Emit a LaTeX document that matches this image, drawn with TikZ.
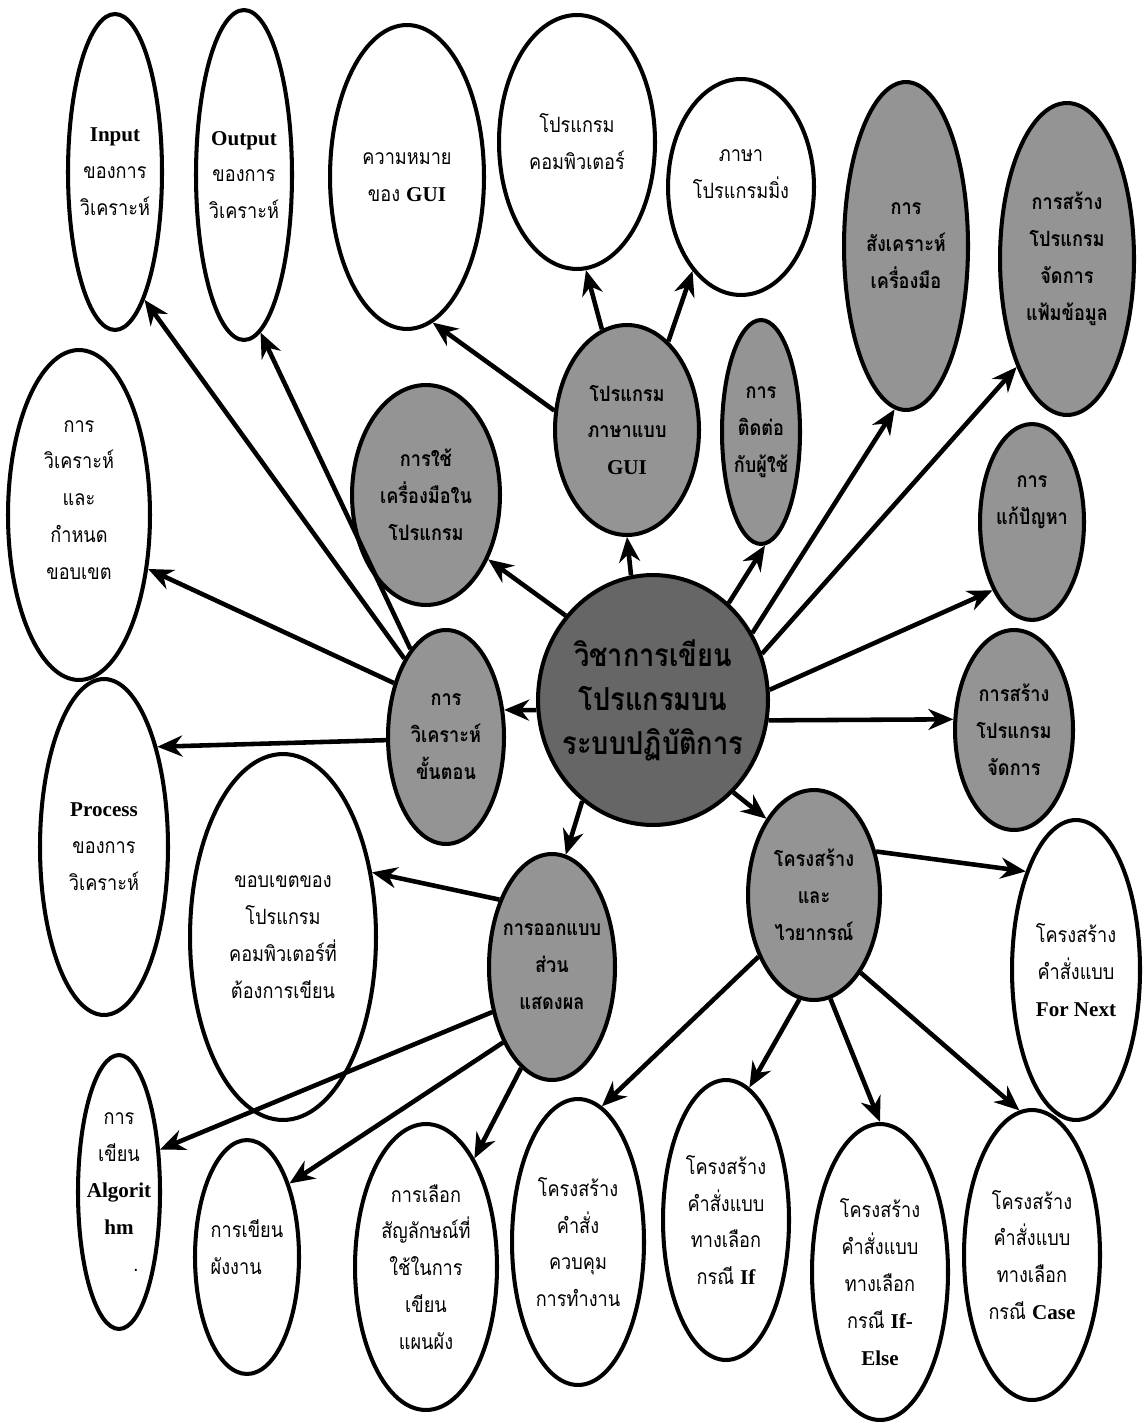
\documentclass[tikz,border=0pt]{standalone}
\usepackage{fontspec}
\setmainfont{Liberation Serif}
\newfontfamily\thai[Script=Thai, FakeStretch=0.86]{Loma}
\usetikzlibrary{arrows.meta, shapes.geometric}
\newcommand\en[1]{{\rmfamily\bfseries #1}}

\begin{document}
\begin{tikzpicture}[
  x=0.02cm, y=-0.02cm,
  arrow/.style={-{Stealth[length=5mm, width=4.2mm]}, line width=2.6pt},
  dims/.style 2 args={minimum width=#1*0.4mm, minimum height=#2*0.4mm},
  oval/.style={ellipse, draw, line width=2.3pt, inner sep=0pt, fill=white},
  topic/.style={oval, fill=black!42},
  hub/.style={oval, fill=black!60},
  txt/.style={align=center, font=\thai\fontsize{12}{21}\selectfont},
  btxt/.style={align=center, font=\thai\bfseries\fontsize{12}{21}\selectfont},
  hubtxt/.style={align=center, font=\thai\bfseries\fontsize{18}{25}\selectfont}
]
\fill[white, use as bounding box] (0,0) rectangle (1148,1425);

% =========================
% Centre
% =========================
\node[hub, dims={115}{125}, label={[hubtxt]center:วิชาการเขียน\\โปรแกรมบน\\ระบบปฏิบัติการ}] (main) at (653,700) {};

% =========================
% Top row
% =========================
\node[oval, dims={47}{158}, label={[txt]center:\en{Input}\\ของการ\\วิเคราะห์}] (input) at (115,172) {};
\node[oval, dims={48}{165}, label={[txt]center:\en{Output}\\ของการ\\วิเคราะห์}] (output) at (244,175) {};
\node[oval, dims={77}{152}, label={[txt]center:ความหมาย\\ของ \en{GUI}}] (meaning) at (407,177) {};
\node[oval, dims={78}{127}, label={[txt]center:โปรแกรม\\คอมพิวเตอร์}] (program) at (577,142) {};
\node[oval, dims={73}{108}, label={[txt, yshift=0.25cm]center:ภาษา\\โปรแกรมมิ่ง}] (lang) at (741,187) {};
\node[topic, dims={62}{164}, label={[btxt]center:การ\\สังเคราะห์\\เครื่องมือ}] (synth) at (906,246) {};
\node[topic, dims={67}{156}, label={[btxt]center:การสร้าง\\โปรแกรม\\จัดการ\\แฟ้มข้อมูล}] (filemgr) at (1067,259) {};

% =========================
% Middle
% =========================
\node[oval, dims={71}{165}, label={[txt, yshift=0.3cm]center:การ\\วิเคราะห์\\และ\\กำหนด\\ขอบเขต}] (scope) at (79,515) {};
\node[topic, dims={74}{110}, label={[btxt]center:การใช้\\เครื่องมือใน\\โปรแกรม}] (tool) at (426,495) {};
\node[topic, dims={72}{105}, label={[btxt]center:โปรแกรม\\ภาษาแบบ\\\en{GUI}}] (gui) at (627,430) {};
\node[topic, dims={39}{112}, label={[btxt]center:การ\\ติดต่อ\\กับผู้ใช้}] (contact) at (761,432) {};
\node[topic, dims={52}{98}, label={[btxt, yshift=0.4cm]center:การ\\แก้ปัญหา}] (solve) at (1032,522) {};
\node[topic, dims={58}{107}, label={[btxt]center:การ\\วิเคราะห์\\ขั้นตอน}] (analysis) at (446,737) {};
\node[topic, dims={59}{100}, label={[btxt]center:การสร้าง\\โปรแกรม\\จัดการ}] (createprog) at (1014,730) {};
\node[oval, dims={64}{168}, label={[txt]center:\en{Process}\\ของการ\\วิเคราะห์}] (process) at (104,847) {};
\node[oval, dims={93}{183}, label={[txt]center:ขอบเขตของ\\โปรแกรม\\คอมพิวเตอร์ที่\\ต้องการเขียน}] (boundary) at (283,937) {};
\node[topic, dims={63}{113}, label={[btxt]center:การออกแบบ\\ส่วน\\แสดงผล}] (design) at (552,967) {};
\node[topic, dims={66}{105}, label={[btxt]center:โครงสร้าง\\และ\\ไวยากรณ์}] (syntax) at (814,895) {};
\node[oval, dims={64}{150}, label={[txt]center:โครงสร้าง\\คำสั่งแบบ\\\en{For Next}}] (fornext) at (1076,970) {};

% =========================
% Bottom row
% =========================
\node[oval, dims={41}{137}, label={[txt]center:การ\\เขียน\\\en{Algorit}\\\en{hm}\\\hspace*{1.6em}.}] (algo) at (119,1192) {};
\node[oval, dims={52}{117}, label={[txt, align=left, yshift=0.2cm]center:การเขียน\\ผังงาน}] (flow) at (247,1257) {};
\node[oval, dims={71}{143}, label={[txt]center:การเลือก\\สัญลักษณ์ที่\\ใช้ในการ\\เขียน\\แผนผัง}] (symbol) at (426,1267) {};
\node[oval, dims={66}{143}, label={[txt]center:โครงสร้าง\\คำสั่ง\\ควบคุม\\การทำงาน}] (control) at (578,1242) {};
\node[oval, dims={63}{140}, label={[txt]center:โครงสร้าง\\คำสั่งแบบ\\ทางเลือก\\กรณี \en{If}}] (caseif) at (726,1220) {};
\node[oval, dims={68}{148}, label={[txt, yshift=-0.2cm]center:โครงสร้าง\\คำสั่งแบบ\\ทางเลือก\\กรณี \en{If-}\\\en{Else}}] (caseifelse) at (880,1272) {};
\node[oval, dims={68}{145}, label={[txt]center:โครงสร้าง\\คำสั่งแบบ\\ทางเลือก\\กรณี \en{Case}}] (casecase) at (1032,1255) {};

% =========================
% Arrows
% =========================
\draw[arrow] (main.136) -- (tool.-46);
\draw[arrow] (main.100) -- (gui.-90);
\draw[arrow] (main.52) -- (contact.-88);
\draw[arrow] (main.34) -- (synth.-94);
\draw[arrow] (main.23) -- (filemgr.-115);
\draw[arrow] (main.5) -- (solve.-120);
\draw[arrow] (main.-10) -- (createprog.170);
\draw[arrow] (main.-49) -- (syntax.122);
\draw[arrow] (main.-125) -- (design.83);
\draw[arrow] (main.185) -- (analysis.25);

\draw[arrow] (gui.165) -- (meaning.-80);
\draw[arrow] (gui.104) -- (program.-86);
\draw[arrow] (gui.65) -- (lang.-120);

\draw[arrow] (analysis.118) -- (input.-77);
\draw[arrow] (analysis.112) -- (output.-84);
\draw[arrow] (analysis.134) -- (scope.-38);
\draw[arrow] (analysis.183) -- (process.62);

\draw[arrow] (design.128) -- (boundary.36);
\draw[arrow] (design.217) -- (algo.46);
\draw[arrow] (design.237) -- (flow.60);
\draw[arrow] (design.253) -- (symbol.66);

\draw[arrow] (syntax.35) -- (fornext.117);
\draw[arrow] (syntax.228) -- (control.80);
\draw[arrow] (syntax.262) -- (caseif.80);
\draw[arrow] (syntax.279) -- (caseifelse.90);
\draw[arrow] (syntax.301) -- (casecase.95);

\end{tikzpicture}
\end{document}
